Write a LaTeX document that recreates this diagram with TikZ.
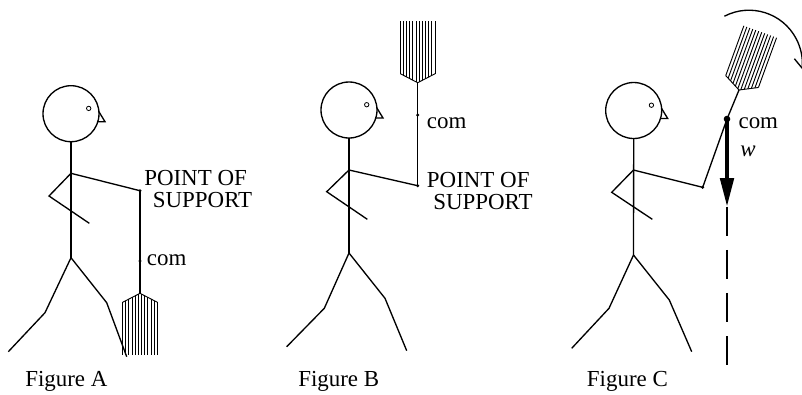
\documentclass[tikz,border=0pt]{standalone}
\usepackage{fontspec}
\setmainfont{Liberation Serif}
\usetikzlibrary{arrows.meta}

\begin{document}
\begin{tikzpicture}[x=0.75pt,y=0.75pt,yscale=-1,xscale=1,
  stick/.style={line width=1pt},
  bristle/.style={line width=0.7pt},
  lbl/.style={inner sep=0pt, font=\fontsize{17.2}{16.5}\selectfont},
]
\useasboundingbox (0,0) rectangle (802,394);

% Heads: circle, eye and beak
\foreach \hx/\hy in {71/113.7, 349/110, 633.7/110.5}{
  \draw [stick] (\hx,\hy) circle [radius=28];
  \draw [line width=0.6pt] (\hx+17.7,\hy-5.3) circle [radius=2.2];
  \draw [stick] (\hx+27.9,\hy-2) -- (\hx+34,\hy+8) -- (\hx+26.8,\hy+8);
}

% Brooms: tip of the handle, then rotation
\foreach \bx/\by/\rot in {140/293.3/0, 417.7/82.7/180, 739/90/200}{
  \begin{scope}[shift={(\bx,\by)}, rotate=\rot]
    \draw [bristle] (-17.4,9) -- (0,0) -- (17.4,9);
    \foreach \i in {0,...,11}{
      \pgfmathsetmacro\sx{-17.4+3.1636*\i}
      \pgfmathsetmacro\sy{9*abs(\sx)/17.4}
      \draw [bristle] (\sx,\sy) -- (\sx,62);
    }
  \end{scope}
}

%% Figure A
\coordinate (neckA) at (71,141.7);
\coordinate (shA) at (71,173.3);
\coordinate (hipA) at (71,257.7);
\coordinate (supA) at (140,190.7);
\coordinate (comA) at (140,261);
\coordinate (tipA) at (140,293.3);
\draw [stick] (neckA) -- (hipA);
\draw [stick] (shA) -- (supA);
\draw [stick] (shA) -- (49,196) -- (89.3,223.3);
\draw [stick] (8.3,351.7) -- (45,312.7) -- (hipA) -- (106.7,302.7) -- (126.7,356.7);
\draw [stick] (supA) -- (tipA);
\fill (supA) circle [radius=1.7];
\fill (comA) circle [radius=1.7];

%% Figure B
\coordinate (neckB) at (349,137.5);
\coordinate (shB) at (349,170);
\coordinate (hipB) at (349,253);
\coordinate (supB) at (417.7,185.7);
\coordinate (comB) at (417.7,115);
\coordinate (tipB) at (417.7,82.7);
\draw [stick] (neckB) -- (hipB);
\draw [stick] (shB) -- (supB);
\draw [stick] (shB) -- (326.7,191.7) -- (367.3,219.3);
\draw [stick] (286.7,346.7) -- (324.3,308.3) -- (hipB) -- (385,298.3) -- (406.7,350.7);
\draw [stick] (supB) -- (tipB);
\fill (supB) circle [radius=1.7];
\fill (comB) circle [radius=1.7];

%% Figure C
\coordinate (neckC) at (633.7,138.5);
\coordinate (shC) at (633.5,170);
\coordinate (hipC) at (633.5,255);
\coordinate (handC) at (702.7,187.3);
\coordinate (comC) at (727,119);
\coordinate (tipC) at (739,90);
\coordinate (wtC) at (727,206.7);
\coordinate (plumbC) at (727,365);
\draw [stick] (neckC) -- (hipC);
\draw [stick] (shC) -- (handC);
\draw [stick] (shC) -- (611.7,192.3) -- (652.3,219.3);
\draw [stick] (571.7,348.3) -- (609,308.3) -- (hipC) -- (669.3,300) -- (691.7,351.7);
\draw [stick] (handC) -- (comC) -- (tipC);
\fill (handC) circle [radius=1.7];
% weight and its line of action
\draw [line width=0.9pt, dash pattern=on 21.75pt off 10.6pt] (wtC) -- (plumbC);
\draw [line width=3pt, -{Triangle[length=21.5pt,width=10pt]}] (comC) -- (wtC);
\fill (comC) circle [radius=3.3];
% swing of the broom
\draw [stick, -{Straight Barb[length=6.4pt,width=13pt]}] (749,63.5) ++(-117.5:53.3) arc [start angle=-117.5, end angle=6, radius=53.3];

% Text Node
\node [lbl, anchor=base west, align=left] (supLblA) at (144,207) {POINT OF\\\hspace*{6.5pt}SUPPORT};
\node [lbl, anchor=base west] (comLblA) at (146.7,265) {com};
\node [lbl, anchor=base west] (figA) at (25,386.5) {Figure A};
% Text Node
\node [lbl, anchor=base west, align=left] (supLblB) at (426.7,209) {POINT OF\\\hspace*{4.8pt}SUPPORT};
\node [lbl, anchor=base west] (comLblB) at (426.7,128.3) {com};
\node [lbl, anchor=base west] (figB) at (298,386.5) {Figure B};
% Text Node
\node [lbl, anchor=base west] (comLblC) at (738.3,128.3) {com};
\node [lbl, anchor=base west] (wLbl) at (740,156.7) {\textit{w}};
\node [lbl, anchor=base west] (figC) at (586.7,386.5) {Figure C};

\end{tikzpicture}
\end{document}
